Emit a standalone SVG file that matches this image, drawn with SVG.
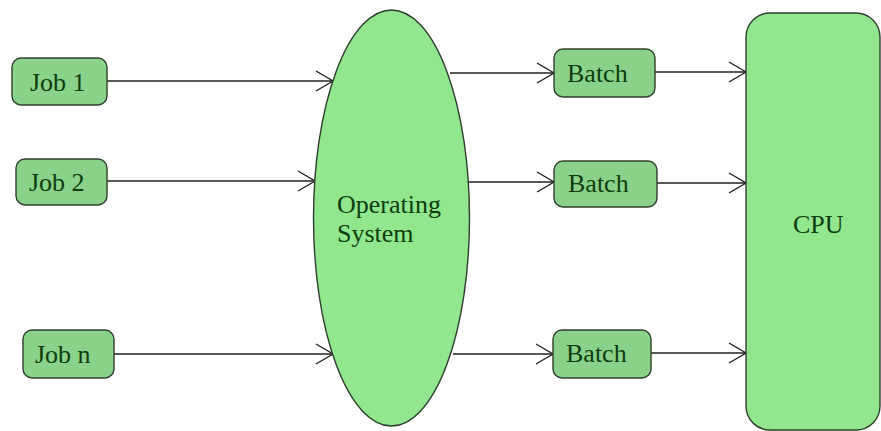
<svg xmlns="http://www.w3.org/2000/svg" width="881" height="431" viewBox="0 0 881 431">
  <style>
    .job { fill: #8ad18a; stroke: #2f3f2f; stroke-width: 1.4; }
    .big { fill: #92e68e; stroke: #2f3f2f; stroke-width: 1.4; }
    .lbl { font-family: "Liberation Serif", "Times New Roman", serif; font-size: 26px; fill: #0d3d0d; }
    .edge { stroke: #222; stroke-width: 1.4; fill: none; marker-end: url(#arr); }
  </style>
  <defs>
    <marker id="arr" markerUnits="userSpaceOnUse" markerWidth="20" markerHeight="24" refX="17" refY="11" orient="auto" overflow="visible">
      <path d="M0,1 L17,11 L0,21" fill="none" stroke="#222" stroke-width="1.4"/>
    </marker>
  </defs>
  <rect width="881" height="431" fill="#ffffff"/>

  <g id="connectors">
    <line class="edge" x1="107" y1="81" x2="333" y2="81"/>
    <line class="edge" x1="107" y1="181" x2="315" y2="181"/>
    <line class="edge" x1="114" y1="354" x2="333" y2="354"/>
    <line class="edge" x1="450" y1="73" x2="554" y2="73"/>
    <line class="edge" x1="469" y1="182" x2="554" y2="182"/>
    <line class="edge" x1="453" y1="354" x2="553" y2="354"/>
    <line class="edge" x1="655" y1="72" x2="746" y2="72"/>
    <line class="edge" x1="657" y1="183" x2="746" y2="183"/>
    <line class="edge" x1="651" y1="353" x2="746" y2="353"/>
  </g>

  <g id="job1">
    <rect class="job" x="12" y="58" width="95" height="47" rx="9"/>
    <text class="lbl" x="30" y="91">Job 1</text>
  </g>
  <g id="job2">
    <rect class="job" x="16" y="159" width="91" height="46" rx="9"/>
    <text class="lbl" x="29" y="191">Job 2</text>
  </g>
  <g id="jobn">
    <rect class="job" x="23" y="330" width="91" height="48" rx="9"/>
    <text class="lbl" x="35" y="363">Job n</text>
  </g>
  <g id="os">
    <ellipse class="big" cx="391.5" cy="218" rx="78" ry="208"/>
    <text class="lbl" x="337" y="213">Operating</text>
    <text class="lbl" x="337" y="242">System</text>
  </g>
  <g id="batch1">
    <rect class="job" x="554" y="49" width="101" height="48" rx="9"/>
    <text class="lbl" x="567" y="82">Batch</text>
  </g>
  <g id="batch2">
    <rect class="job" x="554" y="161" width="103" height="46" rx="9"/>
    <text class="lbl" x="568" y="192">Batch</text>
  </g>
  <g id="batchn">
    <rect class="job" x="553" y="330" width="98" height="48" rx="9"/>
    <text class="lbl" x="566" y="362">Batch</text>
  </g>
  <g id="cpu">
    <rect class="big" x="746" y="13" width="134" height="417" rx="24"/>
    <text class="lbl" x="793" y="233">CPU</text>
  </g>
</svg>
